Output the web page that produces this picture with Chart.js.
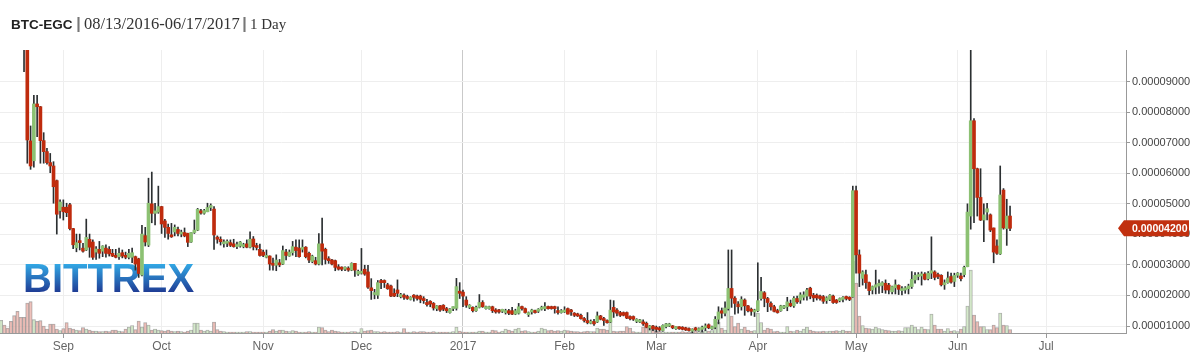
<!DOCTYPE html>
<html>
<head>
<meta charset="utf-8">
<script src="https://cdn.jsdelivr.net/npm/chart.js@4.4.1/dist/chart.umd.min.js"></script>
<style>
  html, body { margin: 0; padding: 0; background: #fff; }
  #wrap { width: 1191px; height: 352px; }
</style>
</head>
<body>
<div id="wrap"><canvas id="chart" width="1191" height="352"></canvas></div>
<script>
// BTC-EGC daily candles, day 0 = 2016-08-13, prices in satoshi (1e-8 BTC)
const opens = [
  14000,15200,14500,13900,13000,12300,11600,10900,10400,7060,
  6410,8270,8180,7070,6710,6350,6240,5760,4780,4890,
  4890,4970,4190,3560,3790,3550,3490,3840,3750,3420,
  3510,3450,3550,3510,3380,3310,3270,3400,3290,3250,
  3250,3270,3200,2670,3960,3650,5000,4690,4730,4910,
  4440,4230,3980,4080,4160,4010,4060,4030,3750,4060,
  4140,4770,4690,4740,4880,4830,3910,3840,3690,3710,
  3730,3690,3600,3620,3600,3690,3580,3850,3610,3510,
  3420,3250,3290,3030,2990,3070,3030,3420,3290,3400,
  3580,3550,3510,3580,3380,3110,3140,3030,3690,3510,
  3200,3160,3140,2940,2920,2860,2880,2830,3050,2700,
  2730,2860,2770,2250,2030,2010,2490,2490,2350,2310,
  2070,2180,1960,2010,1960,1870,2010,1980,1980,1900,
  1770,1810,1740,1570,1660,1680,1570,1440,1570,1580,
  2140,2110,1850,1610,1610,1500,1610,1770,1570,1570,
  1630,1520,1520,1480,1440,1500,1500,1390,1420,1630,
  1570,1370,1460,1500,1480,1550,1570,1630,1630,1630,
  1500,1440,1460,1570,1520,1420,1390,1350,1240,1180,
  1090,1150,1130,1330,1240,1180,1130,1610,1520,1440,
  1440,1440,1310,1310,1150,1130,1130,1090,940,1000,
  960,940,850,980,1000,1000,910,960,960,940,
  910,830,940,850,890,940,1040,910,960,1220,
  1500,1420,1570,2230,1910,1720,1630,1850,1660,1550,
  1460,1500,1900,2090,1900,1740,1630,1500,1500,1590,
  1630,1740,1660,1900,1850,1940,1980,2240,2010,2010,
  1980,1960,1830,1870,1980,1850,1830,1870,1960,1940,
  1960,5430,3330,2560,2680,2420,2180,2270,2310,2330,
  2400,2340,2120,2250,2330,2160,2180,2220,2290,2510,
  2620,2640,2700,2550,2730,2770,2680,2660,2350,2420,
  2620,2460,2660,2640,2680,2940,4600,7720,6150,5210,
  4470,4730,4640,4210,3620,3360,5450,4190,4600
]
const highs = [
  15800,15600,14900,14100,13300,12600,11900,11200,10600,7550,
  8550,8550,8190,7330,6820,6650,6380,5780,5130,5130,
  5020,5020,4200,4010,4010,3710,4500,4010,3820,3600,
  3770,3630,3660,3600,3510,3510,3550,3490,3420,3510,
  3550,3290,3220,4300,4230,5840,6040,5020,5580,4920,
  4490,4340,4360,4310,4240,4140,4210,4040,4060,4470,
  4850,4820,4820,5020,5000,4910,3950,3920,3820,3820,
  3820,3840,3750,3770,3710,3820,4080,3930,3710,3680,
  3490,3490,3300,3220,3330,3180,3620,3510,3490,3770,
  3820,3820,3820,3600,3420,3320,3250,4030,4530,3550,
  3270,3180,3160,3010,2940,2940,2940,3070,3050,2830,
  3540,2990,2990,2550,2200,2490,2530,2510,2400,2340,
  2220,2510,2070,2050,2010,1960,2030,2010,2010,1960,
  1870,1830,1770,1670,1680,1700,1610,1570,1630,2560,
  2420,2180,1960,1700,1630,1650,2030,1830,1650,1650,
  1650,1570,1550,1550,1550,1550,1610,1550,1740,1650,
  1590,1460,1550,1520,1570,1650,1770,1650,1650,1650,
  1630,1540,1630,1590,1550,1440,1420,1390,1280,1440,
  1200,1220,1460,1350,1280,1200,1850,1830,1570,1480,
  1460,1460,1330,1330,1240,1220,1200,1130,1020,1020,
  1000,980,1040,1090,1090,1020,980,980,980,960,
  940,910,960,940,1000,1070,1070,1000,1310,1630,
  1590,1790,3490,3490,1960,1800,1960,1890,1680,1590,
  1550,3070,2590,2130,1940,1790,1680,1550,1680,1680,
  1940,1850,1960,1980,2090,2120,2230,2270,2070,2050,
  2010,2000,1960,2030,2010,1870,1920,1960,1980,1960,
  5580,5580,3490,2810,2830,2440,2310,2830,2510,2450,
  2510,2400,2310,2510,2350,2290,2290,2370,2780,2750,
  2750,2770,2750,2780,3920,2810,2730,2680,2510,2770,
  2730,2730,2750,2730,2960,5000,10500,7790,6170,6150,
  5000,5020,4670,4210,3820,6240,5500,5150,4930
]
const lows = [
  13500,14200,13600,12800,12100,11300,10700,9330,6330,6130,
  6200,7200,6330,6330,6300,6020,5020,4010,4530,4470,
  4580,4150,3530,3430,3490,3420,3470,3250,3180,3180,
  3220,3270,3250,3290,3270,3230,3180,3230,3200,3200,
  3070,2830,2590,2640,3620,3600,4380,4310,4690,4030,
  3900,3840,3900,3950,3950,3920,3920,3600,3740,4030,
  4120,4660,4660,4740,4780,3510,3710,3650,3580,3600,
  3600,3580,3530,3580,3560,3560,3560,3490,3490,3290,
  3270,3230,2830,2830,2810,2940,3010,3160,3280,3320,
  3270,3250,3420,3230,3070,3070,3000,3000,3000,3030,
  3050,3000,2810,2830,2810,2810,2790,2810,2620,2660,
  2700,2660,2230,1870,1890,1900,2220,2260,2200,1960,
  1960,1960,1920,1870,1870,1850,1810,1850,1760,1740,
  1650,1630,1520,1500,1480,1500,1440,1420,1500,1520,
  1900,1630,1610,1570,1460,1480,1590,1610,1550,1550,
  1440,1420,1420,1440,1390,1370,1370,1370,1390,1520,
  1420,1310,1390,1420,1440,1520,1500,1550,1550,1420,
  1390,1420,1440,1390,1350,1310,1310,1220,1130,1070,
  1070,1020,1110,1200,1020,1090,1110,1280,1330,1310,
  1330,1240,1200,1180,1110,1110,1020,940,870,850,
  800,830,830,940,980,910,890,890,870,850,
  830,780,850,830,800,850,910,890,910,1070,
  1260,1330,1520,1610,1390,1420,1520,1350,1460,1350,
  1310,1470,1850,1630,1470,1520,1460,1420,1480,1570,
  1500,1630,1610,1740,1740,1850,1850,1890,1800,1850,
  1850,1740,1740,1830,1740,1740,1790,1790,1850,1830,
  1940,2730,2290,2340,2230,2020,2050,2050,2070,2090,
  2070,2050,2050,2050,2030,2020,2070,2050,2230,2400,
  2510,2340,2510,2510,2550,2510,2550,2310,2200,2400,
  2400,2290,2590,2480,2610,2940,4170,4380,4600,4450,
  3760,4470,4090,3070,3340,3340,4170,3640,4120
]
const closes = [
  15200,14500,13900,13000,12300,11600,10900,10400,7090,6240,
  8270,8180,7070,6710,6350,6240,5560,4660,5060,4740,
  4710,4190,3660,3730,3730,3450,3900,3580,3250,3520,
  3380,3620,3380,3360,3290,3250,3380,3290,3250,3380,
  3400,3030,2720,4010,3750,5020,4690,4770,4910,4340,
  4230,4030,3920,4230,4030,4060,3950,3740,4060,4140,
  4820,4700,4780,4880,4940,3980,3840,3760,3750,3770,
  3640,3600,3660,3750,3660,3580,3840,3600,3570,3310,
  3310,3290,3030,2990,3160,3000,3470,3310,3420,3600,
  3470,3270,3580,3270,3160,3290,3030,3690,3450,3180,
  3140,3030,2920,2860,2860,2920,2830,3050,2830,2790,
  2790,2700,2270,2160,2090,2420,2420,2420,2220,1980,
  1980,2070,2030,1940,1900,1940,1940,1900,1870,1830,
  1700,1720,1590,1660,1520,1550,1500,1550,1610,2290,
  2070,1980,1680,1680,1500,1610,1770,1630,1630,1630,
  1500,1460,1460,1520,1500,1420,1390,1500,1630,1570,
  1440,1440,1520,1440,1550,1610,1630,1570,1570,1570,
  1440,1500,1520,1390,1460,1350,1330,1240,1180,1110,
  1150,1070,1330,1220,1180,1110,1520,1460,1420,1350,
  1350,1260,1240,1220,1220,1200,1070,960,1000,910,
  890,870,1020,1070,1070,940,980,910,890,870,
  850,870,870,910,960,1000,940,980,1220,1460,
  1420,1590,2230,1910,1740,1630,1870,1660,1500,1480,
  1520,1830,2130,1900,1770,1630,1480,1440,1660,1660,
  1790,1660,1910,1790,2020,2020,2180,1980,1920,1920,
  1900,1810,1920,2010,1770,1770,1900,1940,1900,1870,
  5430,3330,2730,2770,2420,2160,2290,2350,2400,2420,
  2180,2180,2290,2350,2200,2220,2250,2310,2530,2660,
  2680,2680,2530,2730,2810,2590,2620,2350,2420,2570,
  2440,2660,2730,2550,2920,4730,7720,6150,5210,4470,
  4640,4840,4140,3420,3380,5290,4210,4600,4200
]
const volumes = [
  12.7,8,5,11.7,17.3,21.7,15.7,15.7,30,31.3,
  13.3,11.7,12.3,7,4,9,9,4,2.5,4.5,
  10.5,5,4,3,2.5,5.5,4,3,2,2,
  1.5,1.5,2,1.5,3,3,2,1.5,4,6,
  7.5,3.5,12,6,10.5,8,3,4,3,2.5,
  2,3,2,1.5,2,1.5,1,2,3,10,
  10,3,2,3,2,11,3.5,2,1.5,1,
  1,1,1,1,1,1.5,1.5,1,1,1,
  1,1,2,3.5,2,3,3,2,1.5,2.5,
  2,1,1,1,1.5,1,1,6,5.5,3,
  1.5,3,2,1.5,1,1,1,1.5,1.5,1,
  4.5,2,2.5,3,1.5,1.5,1,1.5,1,1,
  1,1.5,1,4.5,1,1,1.5,1,1.5,1.5,
  1,1,1.5,1,1,1,1,1,1.5,6,
  2,1,1,1,1,1,2,2,1,1,
  3,2.5,1,2,4,3,2,4,5,2,
  2.5,1.5,1,1,2,5,4,2.5,3,2,
  2.5,2,3,2.5,2,1.5,1.5,1,1.5,2,
  1.5,1.5,5,4,4,3,13,2,1.5,2,
  2,6.5,5,1.5,1,1,6,8,6,4,
  2,1.5,1.5,1,1,1,1,1,1.5,1,
  1,1,2,1.5,1.5,2.5,2,2.5,7,11,
  5,3,33,17,6.5,10,4,6,3,2,
  2.5,20,10.5,3,5,4,1.5,2,1,1,
  6.5,2,1.5,3,2,4,6,3,2,1.5,
  1.5,2,1.5,2,2,2.5,2,3,2,2,
  72,50,17,7.5,5,4.5,4,6,4.5,3.5,
  3,2.5,2,2,2.5,2,5.5,5.5,8,6,
  3.5,6,4,3.5,19,8,4,4,2,4.5,
  2,2.5,1.5,4,6.5,27,63,18,11.5,6.5,
  6.5,3.5,3.5,8,5.5,20,8,7.5,3.5
]

const monthLabels = ['Sep', 'Oct', 'Nov', 'Dec', '2017', 'Feb', 'Mar', 'Apr', 'May', 'Jun', 'Jul']
const monthTickDays = [19, 49, 80, 110, 141, 172, 200, 231, 261, 292, 319]
const priceTicks = [1000, 2000, 3000, 4000, 5000, 6000, 7000, 8000, 9000]

const upColor = '#8cc173'
const downColor = '#bf2b0d'
const fmt = v => (v / 1e8).toFixed(8)

const isUp = closes.map((c, i) => c >= opens[i])

Chart.defaults.font.family = '"Liberation Sans", Arial, sans-serif'

const titleBar = {
  id: 'titleBar',
  afterDraw(chart) {
    const c = chart.ctx
    c.save()
    c.textBaseline = 'alphabetic'
    c.fillStyle = '#222'
    c.font = 'bold 13.5px "Liberation Sans", Arial, sans-serif'
    c.fillText('BTC-EGC', 11, 28.5)
    c.fillStyle = '#777'
    c.font = 'bold 16px "Liberation Sans", Arial, sans-serif'
    c.textAlign = 'center'
    c.fillText('|', 78.5, 29)
    c.fillText('|', 244.5, 29)
    c.textAlign = 'left'
    c.fillStyle = '#333'
    c.font = '16.5px "Liberation Serif", "DejaVu Serif", serif'
    c.fillText('08/13/2016-06/17/2017', 84, 28.5)
    c.font = '15px "Liberation Serif", "DejaVu Serif", serif'
    c.fillText('1 Day', 250, 28.5)
    c.restore()
  }
}

const watermark = {
  id: 'watermark',
  beforeDatasetsDraw(chart) {
    const c = chart.ctx
    c.save()
    const g = c.createLinearGradient(0, 263, 0, 292)
    g.addColorStop(0, '#33ace8')
    g.addColorStop(1, '#1f3d95')
    c.font = 'bold 40px "Liberation Sans", Arial, sans-serif'
    c.fillStyle = g
    c.fillText('BITTREX', 23, 292)
    c.restore()
  }
}

const priceTag = {
  id: 'priceTag',
  afterDraw(chart) {
    const last = closes[closes.length - 1]
    const y = chart.scales.y.getPixelForValue(last)
    const r = chart.chartArea.right
    const c = chart.ctx
    c.save()
    c.fillStyle = '#c1300f'
    c.beginPath()
    c.moveTo(r - 8, y)
    c.lineTo(r - 2, y - 8)
    c.lineTo(1189, y - 8)
    c.lineTo(1189, y + 8)
    c.lineTo(r - 2, y + 8)
    c.closePath()
    c.fill()
    c.fillStyle = '#fff'
    c.font = 'bold 10.5px "Liberation Sans", Arial, sans-serif'
    c.textBaseline = 'middle'
    c.fillText(fmt(last), 1132, y + 0.5)
    c.restore()
  }
}

new Chart(document.getElementById('chart'), {
  type: 'bar',
  data: {
    datasets: [
      {
        label: 'body',
        data: opens.map((o, i) => ({ x: i, y: [o, closes[i]] })),
        backgroundColor: isUp.map(u => u ? upColor : downColor),
        barThickness: 3,
        minBarLength: 2,
        grouped: false,
        clip: 0,
        order: 1
      },
      {
        label: 'wick',
        data: lows.map((l, i) => ({ x: i, y: [l, highs[i]] })),
        backgroundColor: '#2b2f31',
        barThickness: 1,
        grouped: false,
        clip: 0,
        order: 2
      },
      {
        label: 'volume',
        data: volumes.map((v, i) => ({ x: i, y: v })),
        yAxisID: 'yVol',
        backgroundColor: isUp.map(u => u ? 'rgba(205,230,192,0.8)' : 'rgba(236,176,168,0.75)'),
        borderColor: 'rgba(140,140,140,0.75)',
        borderWidth: 0.8,
        barPercentage: 1,
        categoryPercentage: 1,
        grouped: false,
        clip: 0,
        order: 3
      }
    ]
  },
  options: {
    responsive: false,
    animation: false,
    events: [],
    layout: { padding: { top: 50, left: 0, right: 0, bottom: 0 } },
    plugins: { legend: { display: false }, tooltip: { enabled: false }, title: { display: false } },
    scales: {
      x: {
        type: 'linear',
        offset: false,
        min: -0.336,
        max: 343.4,
        afterBuildTicks: s => { s.ticks = monthTickDays.map(v => ({ value: v })) },
        afterFit: s => { s.height = 19 },
        ticks: {
          autoSkip: false,
          maxRotation: 0,
          padding: 1,
          color: '#666',
          font: { size: 12 },
          callback: (v, i) => monthLabels[i]
        },
        grid: {
          offset: false,
          color: c => monthLabels[c.index] === '2017' ? '#c9c9c9' : '#eeeeee',
          tickColor: '#999',
          tickLength: 5
        },
        border: { color: '#999', width: 1 }
      },
      y: {
        type: 'linear',
        position: 'right',
        min: 771,
        max: 10037,
        afterBuildTicks: s => { s.ticks = priceTicks.map(v => ({ value: v })) },
        afterFit: s => { s.width = 65 },
        ticks: {
          padding: 2,
          color: '#444',
          font: { size: 11 },
          callback: v => fmt(v)
        },
        grid: { color: '#eeeeee', tickColor: '#999', tickLength: 4 },
        border: { color: '#999', width: 1 }
      },
      yVol: {
        type: 'linear',
        display: false,
        min: 0,
        max: 283
      }
    }
  },
  plugins: [watermark, priceTag, titleBar]
})
</script>
</body>
</html>
